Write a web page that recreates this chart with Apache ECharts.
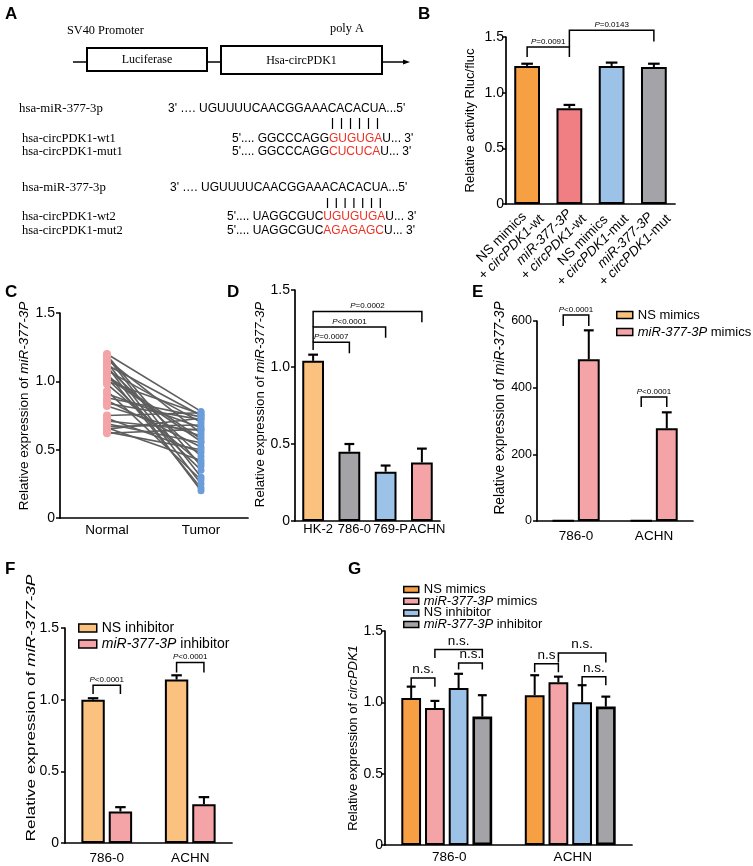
<!DOCTYPE html>
<html><head><meta charset="utf-8">
<script src="https://cdn.jsdelivr.net/npm/echarts@6/dist/echarts.min.js"></script>
<style>html,body{margin:0;padding:0;background:#fff}#c{width:753px;height:866px}</style>
</head><body><div id="c"></div>
<script>
const FONT = '"Liberation Sans", Arial, Helvetica, sans-serif';
const SERIF = '"Liberation Serif", "Times New Roman", serif';

// ---------- Panel B ----------
const bCats = ['NS mimics + circPDK1-wt', 'miR-377-3P + circPDK1-wt', 'NS mimics + circPDK1-mut', 'miR-377-3P + circPDK1-mut'];
const bValues = [1.24, 0.86, 1.24, 1.23];
const bErrTop = [1.26, 0.89, 1.27, 1.26];
const bBrackets = [[0, 0, 1, 0, 1.41, 1.32, 1.32, 'P=0.0091'], [1, 0, 3, 0, 1.56, 1.41, 1.46, 'P=0.0143']];

// ---------- Panel C ----------
const cCats = ['Normal', 'Tumor'];
const cNormal = [1.20, 1.18, 1.16, 1.14, 1.12, 1.10, 1.08, 1.06, 1.04, 1.02, 1.00, 0.98, 0.93, 0.91, 0.86, 0.84, 0.82, 0.75, 0.73, 0.71, 0.69, 0.67, 0.65, 0.63, 0.62, 1.19, 1.11, 1.03, 0.88, 0.66];
const cTumor = [0.78, 0.30, 0.62, 0.25, 0.75, 0.45, 0.70, 0.22, 0.58, 0.35, 0.76, 0.40, 0.28, 0.66, 0.52, 0.72, 0.60, 0.77, 0.48, 0.64, 0.55, 0.68, 0.73, 0.50, 0.65, 0.38, 0.20, 0.56, 0.74, 0.42];

// ---------- Panel D ----------
const dCats = ['HK-2', '786-0', '769-P', 'ACHN'];
const dValues = [1.04, 0.45, 0.32, 0.38];
const dErrTop = [1.08, 0.50, 0.36, 0.47];
const dBrackets = [[0, 0, 1, 0, 1.16, 1.11, 1.09, 'P=0.0007'], [0, 0, 2, 0, 1.26, 1.16, 1.19, 'P<0.0001'], [0, 0, 3, 0, 1.36, 1.26, 1.29, 'P=0.0002']];

// ---------- Panel E ----------
const eCats = ['786-0', 'ACHN'];
const eNS = [1.0, 1.0];
const eNSTop = [1.0, 1.0];
const eMimics = [485, 278];
const eMimicsTop = [572, 326];
const eBrackets = [[0, 0, 0, 1, 618, 585, 585, 'P<0.0001'], [1, 0, 1, 1, 372, 342, 342, 'P<0.0001']];

// ---------- Panel F ----------
const fCats = ['786-0', 'ACHN'];
const fNS = [1.00, 1.14];
const fNSTop = [1.01, 1.17];
const fInh = [0.22, 0.27];
const fInhTop = [0.25, 0.32];
const fBrackets = [[0, 0, 0, 1, 1.10, 1.04, 1.04, 'P<0.0001'], [1, 0, 1, 1, 1.26, 1.19, 1.19, 'P<0.0001']];

// ---------- Panel G ----------
const gCats = ['786-0', 'ACHN'];
const gNSMimics = [1.03, 1.05];
const gNSMimicsTop = [1.11, 1.19];
const gMimics = [0.96, 1.14];
const gMimicsTop = [1.01, 1.18];
const gNSInh = [1.10, 1.00];
const gNSInhTop = [1.20, 1.12];
const gInh = [0.90, 0.97];
const gInhTop = [1.05, 1.04];
const gBrackets = [[0, 0, 0, 1, 1.17, 1.11, 1.11, 'n.s.'], [0, 1, 0, 3, 1.37, 1.31, 1.31, 'n.s.'], [0, 2, 0, 3, 1.275, 1.23, 1.23, 'n.s.'],
                   [1, 0, 1, 1, 1.27, 1.21, 1.21, 'n.s'], [1, 1, 1, 3, 1.345, 1.28, 1.28, 'n.s.'], [1, 2, 1, 3, 1.18, 1.12, 1.12, 'n.s.']];

// ---------- styles ----------
const bColors = ['#F7A043', '#F07F84', '#9DC2E7', '#A4A4A8'];
const dColors = ['#FBC17F', '#A4A4A8', '#9DC2E7', '#F4A3A6'];
const ORANGE_L = '#FBC17F', PINK = '#F4A3A6', ORANGE = '#F7A043', BLUE = '#9DC2E7', GRAY = '#A4A4A8';

const LB = {n: 1, bw: 0.61, gap: 0};
const LD = {n: 1, bw: 0.60, gap: 0};
const LE = {n: 2, bw: 0.28, gap: 0.17};
const LF = {n: 2, bw: 0.28, gap: 0.17};
const LG = {n: 4, bw: 0.16, gap: 0.2};

function barX(api, cat, idx, L) {
  const cw = api.size([1, 0])[0];
  const bw = cw * L.bw, gap = bw * L.gap;
  const gw = L.n * bw + (L.n - 1) * gap;
  return api.coord([cat, 0])[0] - gw / 2 + bw / 2 + idx * (bw + gap);
}

function errSeries(xi, L, idx, vals, tops) {
  return {
    type: 'custom', xAxisIndex: xi, yAxisIndex: xi, z: 3, silent: true,
    data: vals.map((v, i) => [i, v, tops[i]]),
    renderItem: (params, api) => {
      const cat = api.value(0);
      const x = barX(api, cat, idx, L);
      const y0 = api.coord([cat, api.value(1)])[1];
      const y1 = api.coord([cat, api.value(2)])[1];
      const cw = api.size([1, 0])[0] * L.bw * 0.45;
      if (Math.abs(y1 - y0) < 0.5) return null;
      return {type: 'group', children: [
        {type: 'line', shape: {x1: x, y1: y0, x2: x, y2: y1}, style: {stroke: '#000', lineWidth: 2}},
        {type: 'line', shape: {x1: x - cw / 2, y1: y1, x2: x + cw / 2, y2: y1}, style: {stroke: '#000', lineWidth: 2.2}}
      ]};
    }
  };
}

function bracketSeries(xi, L, list, fs, isP) {
  return {
    type: 'custom', xAxisIndex: xi, yAxisIndex: xi, z: 4, silent: true, clip: false,
    data: list.map(b => [b[0], b[4]]),
    renderItem: (params, api) => {
      const b = list[params.dataIndex];
      const x1 = barX(api, b[0], b[1], L), x2 = barX(api, b[2], b[3], L);
      const yt = api.coord([b[0], b[4]])[1], yl = api.coord([b[0], b[5]])[1], yr = api.coord([b[0], b[6]])[1];
      const txt = isP ? '{i|P}{n|' + b[7].slice(1) + '}' : b[7];
      return {type: 'group', children: [
        {type: 'polyline', shape: {points: [[x1, yl], [x1, yt], [x2, yt], [x2, yr]]}, style: {stroke: '#000', lineWidth: 1.5, fill: 'none'}},
        {type: 'text', x: (x1 + x2) / 2, y: yt - 1.5, style: {
          text: txt, align: 'center', verticalAlign: 'bottom', fontSize: fs, fontFamily: FONT, fill: '#000',
          rich: {i: {fontStyle: 'italic', fontSize: fs, fontFamily: FONT, fill: '#000'}, n: {fontSize: fs, fontFamily: FONT, fill: '#000'}}
        }}
      ]};
    }
  };
}

const axLine = {lineStyle: {color: '#000', width: 1.7}};
function xAx(gi, data, margin, extraLabel) {
  return {
    type: 'category', gridIndex: gi, data: data,
    axisLine: axLine,
    axisTick: {alignWithLabel: true, length: 4, lineStyle: {color: '#000', width: 1.5}},
    axisLabel: Object.assign({color: '#000', fontFamily: FONT, fontSize: 13.5, interval: 0, margin: margin, hideOverlap: false}, extraLabel || {}),
    splitLine: {show: false}
  };
}
const richName = (fs) => ({i: {fontStyle: 'italic', fontSize: fs, fontFamily: FONT, color: '#000'}});
function yAx(gi, max, interval, name, gap, fs, pad, margin, lblFs, fmt) {
  return {
    type: 'value', gridIndex: gi, min: 0, max: max, interval: interval,
    name: name, nameLocation: 'middle', nameGap: gap,
    nameTextStyle: {fontSize: fs, fontFamily: FONT, color: '#000', padding: [0, 0, 0, pad], rich: richName(fs)},
    axisLine: {show: true, lineStyle: {color: '#000', width: 1.7}},
    axisTick: {show: true, length: 4, lineStyle: {color: '#000', width: 1.5}},
    axisLabel: {color: '#000', fontFamily: FONT, fontSize: lblFs, margin: margin, formatter: fmt},
    splitLine: {show: false}
  };
}
const fmt15 = v => (v === 0 ? '0' : v.toFixed(1));

function legendFmt(name) { return name.trim().replace('miR-377-3P', '{i|miR-377-3P}'); }
function legendCfg(names, left, top, fs, iw, ih, gap, extra) {
  return Object.assign({
    data: names, left: left, top: top, orient: 'vertical', itemWidth: iw, itemHeight: ih, itemGap: gap,
    padding: 0, selectedMode: false, icon: 'rect', formatter: legendFmt,
    itemStyle: {borderColor: '#000', borderWidth: 1.5},
    textStyle: {fontSize: fs, fontFamily: FONT, color: '#000', rich: {i: {fontStyle: 'italic', fontSize: fs, fontFamily: FONT, color: '#000'}}}
  }, extra || {});
}

function bLabel(v) {
  const parts = v.split(' + ');
  const l1 = parts[0] === 'miR-377-3P' ? '{i|miR-377-3P}' : '{n|' + parts[0] + '}';
  const l2 = '{n|+ }{i|circPDK1}{n|' + parts[1].replace('circPDK1', '') + '}';
  return l1 + '\n' + l2;
}

function barSeries(name, xi, L, data, color, bw) {
  return {
    name: name, type: 'bar', xAxisIndex: xi, yAxisIndex: xi, data: data,
    barWidth: (L.bw * 100) + '%', barGap: (L.gap * 100) + '%',
    itemStyle: {color: color, borderColor: '#000', borderWidth: bw || 2},
    emphasis: {disabled: true}, z: 2
  };
}

// ---------- Panel A graphic ----------
function T(x, y, text, o) {
  o = o || {};
  return {type: 'text', x: x, y: y, silent: true, style: {
    text: text, fontSize: o.fs || 12, fontFamily: o.ff || FONT, fontWeight: o.fw || 'normal', fill: '#000',
    align: o.align || 'left', verticalAlign: 'middle',
    rich: {r: {fill: '#EE3124', fontSize: o.fs || 12, fontFamily: o.ff || FONT}}
  }};
}
function L(x1, y1, x2, y2, w) {
  return {type: 'line', silent: true, shape: {x1: x1, y1: y1, x2: x2, y2: y2}, style: {stroke: '#000', lineWidth: w || 1.5}};
}
const graphics = [
  T(5, 14, 'A', {fs: 17, fw: 'bold'}), T(418, 14, 'B', {fs: 17, fw: 'bold'}),
  T(5, 292.5, 'C', {fs: 17, fw: 'bold'}), T(227, 292, 'D', {fs: 17, fw: 'bold'}),
  T(472, 292.5, 'E', {fs: 17, fw: 'bold'}), T(5, 569, 'F', {fs: 17, fw: 'bold'}),
  T(348, 569, 'G', {fs: 17, fw: 'bold'}),
  T(67, 31, 'SV40 Promoter', {ff: SERIF, fs: 12.3}),
  T(330, 29, 'poly A', {ff: SERIF, fs: 12.3}),
  L(73, 62, 87, 62), L(207, 62, 221, 62), L(382, 62, 404, 62),
  {type: 'polygon', silent: true, shape: {points: [[403, 59.5], [410, 62], [403, 64.5]]}, style: {fill: '#000'}},
  {type: 'rect', silent: true, shape: {x: 87, y: 48, width: 120, height: 23}, style: {fill: '#fff', stroke: '#000', lineWidth: 2}},
  {type: 'rect', silent: true, shape: {x: 221, y: 46, width: 161, height: 28}, style: {fill: '#fff', stroke: '#000', lineWidth: 2}},
  T(147, 60, 'Luciferase', {ff: SERIF, fs: 12, align: 'center'}),
  T(301.5, 61, 'Hsa-circPDK1', {ff: SERIF, fs: 12, align: 'center'}),
  T(19, 109, 'hsa-miR-377-3p', {ff: SERIF, fs: 12.8}),
  T(168, 109, "3' \u2026. UGUUUUCAACGGAAACACACUA...5'", {fs: 12}),
  T(22, 139, 'hsa-circPDK1-wt1', {ff: SERIF, fs: 12.5}),
  T(232, 139, "5'.... GGCCCAGG{r|GUGUGA}U... 3'", {fs: 12}),
  T(22, 152, 'hsa-circPDK1-mut1', {ff: SERIF, fs: 12.5}),
  T(232, 152, "5'.... GGCCCAGG{r|CUCUCA}U... 3'", {fs: 12}),
  T(22, 188, 'hsa-miR-377-3p', {ff: SERIF, fs: 12.8}),
  T(170, 188, "3' \u2026. UGUUUUCAACGGAAACACACUA...5'", {fs: 12}),
  T(22, 217, 'hsa-circPDK1-wt2', {ff: SERIF, fs: 12.5}),
  T(227, 217, "5'.... UAGGCGUC{r|UGUGUGA}U... 3'", {fs: 12}),
  T(22, 231, 'hsa-circPDK1-mut2', {ff: SERIF, fs: 12.5}),
  T(227, 231, "5'.... UAGGCGUC{r|AGAGAGC}U... 3'", {fs: 12}),
  // Panel F y-axis title (stretched along its length like the reference)
  {type: 'text', x: 31.5, y: 708, rotation: Math.PI / 2, scaleX: 1.27, silent: true, style: {
    text: 'Relative expression of {i|miR-377-3P}', fontSize: 13.6, fontFamily: FONT, fill: '#000',
    align: 'center', verticalAlign: 'middle',
    rich: {i: {fontStyle: 'italic', fontSize: 13.6, fontFamily: FONT, fill: '#000'}}
  }}
];
for (let k = 0; k < 6; k++) graphics.push(L(332.5 + k * 9, 118, 332.5 + k * 9, 129, 1.2));
for (let k = 0; k < 7; k++) graphics.push(L(327.5 + k * 8.8, 198, 327.5 + k * 8.8, 208, 1.2));

const option = {
  animation: false,
  backgroundColor: '#fff',
  textStyle: {fontFamily: FONT},
  grid: [
    {left: 506, top: 37, width: 169, height: 167},
    {left: 60, top: 313, width: 188, height: 205},
    {left: 295, top: 290, width: 145, height: 231},
    {left: 537, top: 321, width: 156, height: 200},
    {left: 65, top: 628, width: 167, height: 215},
    {left: 385, top: 631, width: 247, height: 214}
  ],
  xAxis: [
    xAx(0, bCats, -2, {rotate: 45, verticalAlign: 'top', formatter: bLabel, rich: {
      n: {fontSize: 13.5, fontFamily: FONT, color: '#000', align: 'center'},
      i: {fontSize: 13.5, fontFamily: FONT, color: '#000', fontStyle: 'italic', align: 'center'}}}),
    xAx(1, cCats, 5),
    xAx(2, dCats, 2, {fontSize: 13, padding: [0, 0, 0, 10]}),
    xAx(3, eCats, 8),
    xAx(4, fCats, 8),
    xAx(5, gCats, 5, {padding: [0, 0, 0, 5]})
  ],
  yAxis: [
    yAx(0, 1.5, 0.5, 'Relative activity Rluc/fluc', 29, 13, 0, 2, 14, fmt15),
    yAx(1, 1.5, 0.5, 'Relative expression of {i|miR-377-3P}', 25, 13.5, 19, 5, 14, fmt15),
    yAx(2, 1.5, 0.5, 'Relative expression of {i|miR-377-3P}', 28, 13.3, 2, 5, 14, fmt15),
    yAx(3, 600, 200, 'Relative expression of {i|miR-377-3P}', 30, 13.8, 26, 5, 12.5),
    yAx(4, 1.5, 0.5, '', 27, 17, 0, 6, 14, fmt15),
    yAx(5, 1.5, 0.5, 'Relative expression of {i|circPDK1}', 25, 13, 0, 2, 14, fmt15)
  ],
  legend: [
    legendCfg(['NS mimics', 'miR-377-3P mimics'], 616, 308.5, 13, 16, 7, 4),
    legendCfg(['NS inhibitor', 'miR-377-3P inhibitor'], 78, 621, 14, 18, 8, 2, {}),
    legendCfg(['NS mimics ', 'miR-377-3P mimics ', 'NS inhibitor ', 'miR-377-3P inhibitor '], 403, 583, 13, 15, 6, -1.3)
  ],
  graphic: graphics,
  series: [
    // B
    barSeries('B', 0, LB, bValues.map((v, i) => ({value: v, itemStyle: {color: bColors[i]}})), null),
    errSeries(0, LB, 0, bValues, bErrTop),
    bracketSeries(0, LB, bBrackets, 8, true),
    // C
    {type: 'custom', xAxisIndex: 1, yAxisIndex: 1, z: 2, silent: true,
      data: cNormal.map((v, i) => [0, v, cTumor[i]]),
      renderItem: (params, api) => {
        const p1 = api.coord([0, api.value(1)]), p2 = api.coord([1, api.value(2)]);
        return {type: 'line', shape: {x1: p1[0], y1: p1[1], x2: p2[0], y2: p2[1]}, style: {stroke: '#5E5E5E', lineWidth: 1.6}};
      }},
    {type: 'scatter', xAxisIndex: 1, yAxisIndex: 1, z: 3, symbolSize: 8, silent: true,
      itemStyle: {color: '#F4A3A6', opacity: 1}, data: cNormal.map(v => [0, v])},
    {type: 'scatter', xAxisIndex: 1, yAxisIndex: 1, z: 3, symbolSize: 7, silent: true,
      itemStyle: {color: '#6A9DD9', opacity: 1}, data: cTumor.map(v => [1, v])},
    // D
    barSeries('D', 2, LD, dValues.map((v, i) => ({value: v, itemStyle: {color: dColors[i]}})), null),
    errSeries(2, LD, 0, dValues, dErrTop),
    bracketSeries(2, LD, dBrackets, 8, true),
    // E
    barSeries('NS mimics', 3, LE, eNS, ORANGE_L),
    barSeries('miR-377-3P mimics', 3, LE, eMimics, PINK),
    errSeries(3, LE, 1, eMimics, eMimicsTop),
    errSeries(3, LE, 0, eNS, eNSTop),
    bracketSeries(3, LE, eBrackets, 8, true),
    // F
    barSeries('NS inhibitor', 4, LF, fNS, ORANGE_L),
    barSeries('miR-377-3P inhibitor', 4, LF, fInh, PINK),
    errSeries(4, LF, 0, fNS, fNSTop),
    errSeries(4, LF, 1, fInh, fInhTop),
    bracketSeries(4, LF, fBrackets, 8, true),
    // G
    barSeries('NS mimics ', 5, LG, gNSMimics, ORANGE),
    barSeries('miR-377-3P mimics ', 5, LG, gMimics, PINK),
    barSeries('NS inhibitor ', 5, LG, gNSInh, BLUE),
    barSeries('miR-377-3P inhibitor ', 5, LG, gInh, GRAY, 2.6),
    errSeries(5, LG, 0, gNSMimics, gNSMimicsTop),
    errSeries(5, LG, 1, gMimics, gMimicsTop),
    errSeries(5, LG, 2, gNSInh, gNSInhTop),
    errSeries(5, LG, 3, gInh, gInhTop),
    bracketSeries(5, LG, gBrackets, 13.5, false)
  ]
};

const chart = echarts.init(document.getElementById('c'), null, {renderer: 'canvas', width: 753, height: 866});
chart.setOption(option);
</script>
</body></html>
